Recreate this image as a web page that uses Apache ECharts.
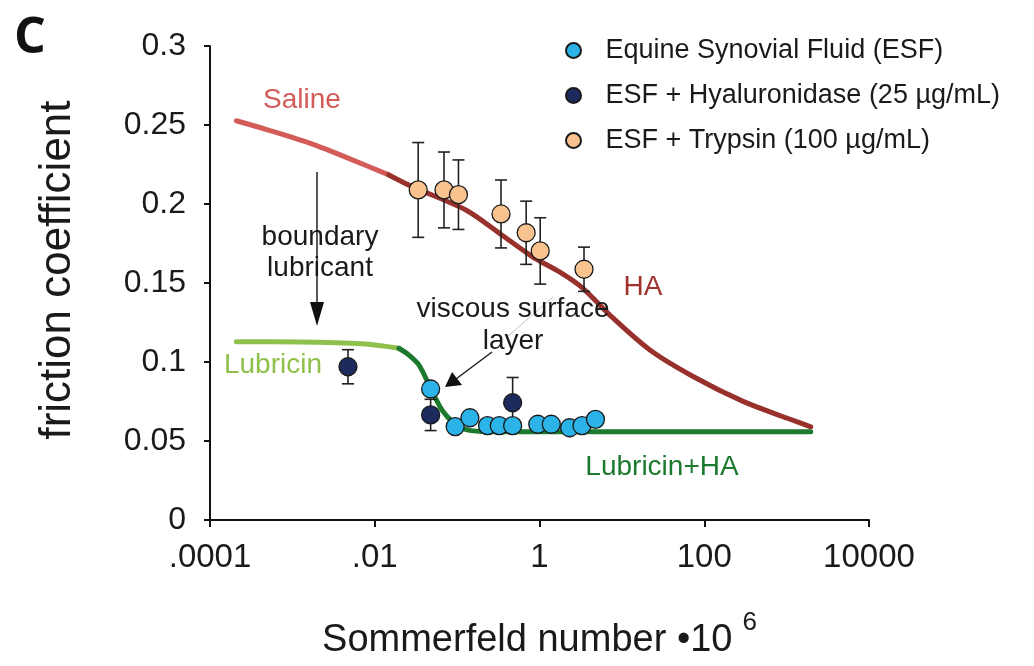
<!DOCTYPE html>
<html>
<head>
<meta charset="utf-8">
<script src="https://cdn.jsdelivr.net/npm/echarts@6/dist/echarts.min.js"></script>
<style>
html,body{margin:0;padding:0;background:#fff;}
#chart{width:1034px;height:666px;}
</style>
</head>
<body>
<div id="chart"></div>
<script>
// ---------- data ----------
var xTickValues = [0.0001, 0.01, 1, 100, 10000];
var xTickLabels = ['.0001', '.01', '1', '100', '10000'];

// Saline curve (light red)
var salineX = [2.09e-4, 5.1e-4, 1.89e-3, 4.82e-3, 0.01483];
var salineY = [0.2527, 0.2468, 0.2373, 0.2289, 0.2184];
// HA curve (dark red)
var haX = [0.01483, 0.0285, 0.1276, 0.325, 0.822, 1.75, 3.34, 7.14, 21.9, 74.1, 301, 1020, 1963];
var haY = [0.2184, 0.211, 0.1962, 0.1815, 0.1666, 0.157, 0.1468, 0.1297, 0.1076, 0.0907, 0.0749, 0.0644, 0.059];
// Lubricin curve (light green)
var lubX = [2.09e-4, 1.2e-3, 7.7e-3, 0.01963];
var lubY = [0.1128, 0.1127, 0.1114, 0.1087];
// Lubricin+HA curve (dark green)
var lubHaX = [0.01963, 0.026, 0.0344, 0.0482, 0.0656, 0.0918, 0.1324, 0.2453, 1963];
var lubHaY = [0.1087, 0.1044, 0.0981, 0.0829, 0.0696, 0.0614, 0.057, 0.0559, 0.0559];

// Equine Synovial Fluid (ESF)
var esfX = [0.0477, 0.0947, 0.143, 0.234, 0.325, 0.472, 0.953, 1.39, 2.32, 3.28, 4.78];
var esfY = [0.0829, 0.0591, 0.0647, 0.0597, 0.0597, 0.0597, 0.0606, 0.0606, 0.0584, 0.0597, 0.0637];
// ESF + Hyaluronidase
var hyalX = [0.00473, 0.0477, 0.472];
var hyalY = [0.097, 0.0665, 0.0742];
var hyalErr = [0.0108, 0.0099, 0.016];
// ESF + Trypsin
var trypX = [0.0337, 0.0693, 0.1038, 0.341, 0.689, 1.02, 3.47];
var trypY = [0.2089, 0.2089, 0.2059, 0.1937, 0.1818, 0.1703, 0.1587];
var trypErr = [0.030, 0.024, 0.022, 0.0215, 0.020, 0.021, 0.014];

// ---------- helpers ----------
function pairs(xs, ys) { return xs.map(function (x, i) { return [x, ys[i]]; }); }
function triples(xs, ys, es) { return xs.map(function (x, i) { return [x, ys[i], es[i]]; }); }

var FONT = 'Liberation Sans, Arial, Helvetica, sans-serif';
var TXT = '#1a1a1a';

function errorRender(params, api) {
  var x = api.value(0), y = api.value(1), e = api.value(2);
  var top = api.coord([x, y + e]);
  var bot = api.coord([x, y - e]);
  var cap = 6;
  var st = { stroke: '#222', lineWidth: 1.6 };
  return {
    type: 'group',
    children: [
      { type: 'line', shape: { x1: top[0], y1: top[1], x2: bot[0], y2: bot[1] }, style: st },
      { type: 'line', shape: { x1: top[0] - cap, y1: top[1], x2: top[0] + cap, y2: top[1] }, style: st },
      { type: 'line', shape: { x1: bot[0] - cap, y1: bot[1], x2: bot[0] + cap, y2: bot[1] }, style: st }
    ]
  };
}

function curve(name, xs, ys, color) {
  return {
    name: name, type: 'line', data: pairs(xs, ys), showSymbol: false, symbol: 'none',
    smooth: 0.3, silent: true,
    lineStyle: { color: color, width: 5, cap: 'round' }, z: 2
  };
}

var chart = echarts.init(document.getElementById('chart'), null, { renderer: 'canvas' });

var option = {
  backgroundColor: '#ffffff',
  animation: false,
  textStyle: { fontFamily: FONT, color: TXT },
  grid: { left: 210, right: 165, top: 46, bottom: 146, containLabel: false },
  legend: {
    orient: 'vertical', left: 560, top: 32, itemGap: 18,
    itemWidth: 54, itemHeight: 15, icon: 'circle',
    textStyle: { fontFamily: FONT, fontSize: 27, color: TXT },
    data: ['Equine Synovial Fluid (ESF)', 'ESF + Hyaluronidase (25 µg/mL)', 'ESF + Trypsin (100 µg/mL)']
  },
  xAxis: {
    type: 'log', logBase: 10, min: 0.0001, max: 10000,
    name: '{a|Sommerfeld number •10}{s|6}',
    nameLocation: 'middle', nameGap: 90,
    nameTextStyle: {
      rich: {
        a: { fontFamily: FONT, fontSize: 38, color: TXT },
        s: { fontFamily: FONT, fontSize: 26, color: TXT, padding: [0, 0, 36, 10] }
      }
    },
    axisLine: { show: true, lineStyle: { color: '#111', width: 2 } },
    axisTick: { show: true, length: 7, lineStyle: { color: '#111', width: 2 }, customValues: xTickValues },
    minorTick: { show: false },
    splitLine: { show: false },
    axisLabel: {
      customValues: xTickValues, margin: 21, fontSize: 33, color: TXT, fontFamily: FONT,
      formatter: function (v) {
        for (var i = 0; i < xTickValues.length; i++) {
          if (Math.abs(Math.log10(v) - Math.log10(xTickValues[i])) < 1e-6) return xTickLabels[i];
        }
        return '';
      }
    }
  },
  yAxis: {
    type: 'value', min: 0, max: 0.3, interval: 0.05,
    name: 'friction coefficient', nameLocation: 'middle', nameGap: 130,
    nameTextStyle: { fontFamily: FONT, fontSize: 44, color: TXT, padding: [0, 0, 0, 26] },
    axisLine: { show: true, lineStyle: { color: '#111', width: 2 } },
    axisTick: { show: true, length: 6, lineStyle: { color: '#111', width: 2 } },
    splitLine: { show: false },
    axisLabel: { margin: 24, fontSize: 32, color: TXT, fontFamily: FONT }
  },
  series: [
    curve('Saline', salineX, salineY, '#d35b58'),
    curve('HA', haX, haY, '#98302c'),
    curve('Lubricin', lubX, lubY, '#8fc04c'),
    curve('Lubricin+HA', lubHaX, lubHaY, '#1b7a2e'),
    {
      name: 'trypErr', type: 'custom', renderItem: errorRender, data: triples(trypX, trypY, trypErr),
      encode: { x: 0, y: 1 }, z: 3, silent: true
    },
    {
      name: 'hyalErr', type: 'custom', renderItem: errorRender, data: triples(hyalX, hyalY, hyalErr),
      encode: { x: 0, y: 1 }, z: 3, silent: true
    },
    {
      name: 'ESF + Trypsin (100 µg/mL)', type: 'scatter', data: pairs(trypX, trypY), symbolSize: 18, z: 4,
      itemStyle: { color: '#f8c38e', borderColor: '#1a1a1a', borderWidth: 1.3, opacity: 1 }
    },
    {
      name: 'ESF + Hyaluronidase (25 µg/mL)', type: 'scatter', data: pairs(hyalX, hyalY), symbolSize: 18, z: 4,
      itemStyle: { color: '#1d2a5e', borderColor: '#1a1a1a', borderWidth: 1.3, opacity: 1 }
    },
    {
      name: 'Equine Synovial Fluid (ESF)', type: 'scatter', data: pairs(esfX, esfY), symbolSize: 18, z: 5,
      itemStyle: { color: '#2cb3e8', borderColor: '#1a1a1a', borderWidth: 1.3, opacity: 1 }
    }
  ],
  graphic: [
    { type: 'text', left: 14, top: 14, style: { text: 'C', fontFamily: 'Open Sans, Liberation Sans, sans-serif', fontWeight: 'bold', fontSize: 50, fill: '#111' } },
    // Curve labels
    { type: 'text', x: 302, y: 100, style: { text: 'Saline', fontFamily: FONT, fontSize: 28, fill: '#d35b58', align: 'center', verticalAlign: 'middle' } },
    { type: 'text', x: 643, y: 287, style: { text: 'HA', fontFamily: FONT, fontSize: 28, fill: '#a0332f', align: 'center', verticalAlign: 'middle' } },
    { type: 'text', x: 273, y: 365, style: { text: 'Lubricin', fontFamily: FONT, fontSize: 28, fill: '#8fc04c', align: 'center', verticalAlign: 'middle' } },
    { type: 'text', x: 662, y: 467, style: { text: 'Lubricin+HA', fontFamily: FONT, fontSize: 28, fill: '#1b7a2e', align: 'center', verticalAlign: 'middle' } },
    // boundary lubricant arrow
    { type: 'line', shape: { x1: 317, y1: 172, x2: 317, y2: 312 }, style: { stroke: '#222', lineWidth: 1.5 }, z: 10 },
    { type: 'polygon', shape: { points: [[310, 302], [324, 302], [317, 326]] }, style: { fill: '#111' }, z: 10 },
    { type: 'text', x: 320, y: 237, z: 11, style: { text: 'boundary', fontFamily: FONT, fontSize: 28, fill: TXT, align: 'center', verticalAlign: 'middle' } },
    { type: 'text', x: 320, y: 268, z: 11, style: { text: 'lubricant', fontFamily: FONT, fontSize: 28, fill: TXT, align: 'center', verticalAlign: 'middle' } },
    // viscous surface layer arrow
    { type: 'line', shape: { x1: 553, y1: 297, x2: 507, y2: 337 }, style: { stroke: '#c4c4c4', lineWidth: 1 }, z: 9 },
    { type: 'line', shape: { x1: 492, y1: 352, x2: 456, y2: 379 }, style: { stroke: '#222', lineWidth: 1.5 }, z: 10 },
    { type: 'polygon', shape: { points: [[445, 387], [452, 372], [462, 385]] }, style: { fill: '#111' }, z: 10 },
    { type: 'text', x: 513, y: 309, z: 11, style: { text: 'viscous surface', fontFamily: FONT, fontSize: 28, fill: TXT, align: 'center', verticalAlign: 'middle' } },
    { type: 'text', x: 513, y: 341, z: 11, style: { text: 'layer', fontFamily: FONT, fontSize: 28, fill: TXT, align: 'center', verticalAlign: 'middle' } }
  ]
};

chart.setOption(option);
</script>
</body>
</html>
